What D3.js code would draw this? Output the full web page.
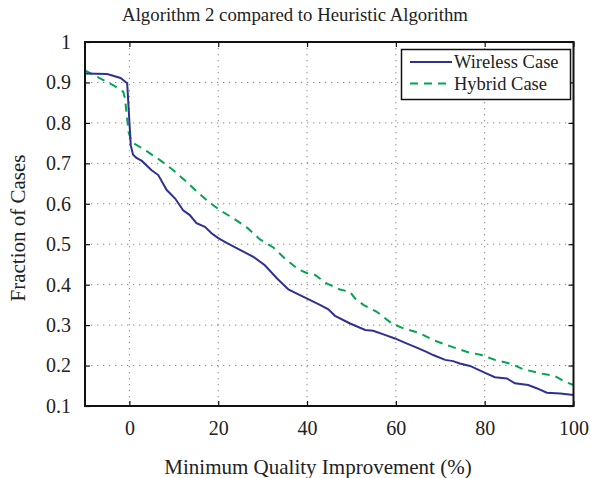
<!DOCTYPE html>
<html><head><meta charset="utf-8">
<script src="https://cdn.jsdelivr.net/npm/d3@7"></script>
<style>body{margin:0;background:#fff}svg{display:block}text{font-family:"Liberation Serif","Times New Roman",serif;fill:#222}</style>
</head><body><svg id="c" width="591" height="478"></svg>
<script>
const title = "Algorithm 2 compared to Heuristic Algorithm";
const xLabel = "Minimum Quality Improvement (%)";
const yLabel = "Fraction of Cases";
const xTicks = [0, 20, 40, 60, 80, 100];
const yTicks = [0.1, 0.2, 0.3, 0.4, 0.5, 0.6, 0.7, 0.8, 0.9, 1];
const seriesNames = ["Wireless Case", "Hybrid Case"];
const wirelessX = [-10,-5,-2,-0.5,0.3,0.8,1.5,2.8,5,6.5,8.4,10.3,12.1,13.6,15.1,17,18.5,20,22,24.9,27.9,30.5,33.2,35.8,38.4,39.9,42.9,44.8,46.3,49.7,53.1,54.9,57.2,59.8,62.1,64.3,66.9,68.4,71.1,72.9,74.4,76.7,80.1,82.3,85,86.8,89.8,91.7,94,97,100];
const wirelessY = [0.922,0.921,0.911,0.898,0.745,0.722,0.714,0.706,0.683,0.671,0.634,0.613,0.584,0.572,0.552,0.543,0.527,0.515,0.503,0.486,0.469,0.448,0.416,0.388,0.374,0.366,0.350,0.339,0.323,0.304,0.288,0.286,0.277,0.267,0.256,0.246,0.234,0.226,0.214,0.211,0.205,0.199,0.182,0.171,0.168,0.156,0.152,0.144,0.133,0.131,0.127];
const hybridX = [-10,-6.6,-3.6,-1.4,-1,-0.2,0.5,3.9,6.9,9.9,12.9,15.2,17.8,20.4,23.4,26.5,29.4,32.4,35,38,39.9,41.8,44.4,47.4,49.7,50.8,52.7,55.7,59.1,61.7,65.4,68.4,72.2,75.9,79.3,82.3,85.7,88.7,92.4,95.8,98.1,100];
const hybridY = [0.930,0.910,0.893,0.877,0.861,0.778,0.753,0.730,0.708,0.683,0.654,0.630,0.605,0.584,0.564,0.541,0.512,0.492,0.465,0.438,0.429,0.424,0.403,0.388,0.382,0.366,0.350,0.333,0.304,0.292,0.280,0.263,0.248,0.234,0.226,0.214,0.205,0.191,0.181,0.174,0.160,0.152];

const svg = d3.select("#c");
const L = 85, R = 573.5, T = 42, B = 406;
const x = d3.scaleLinear().domain([-10, 100]).range([L, R]);
const y = d3.scaleLinear().domain([0.1, 1]).range([B, T]);

// grid
const g = svg.append("g");
g.selectAll(".gx").data(xTicks.filter(d => d < 100)).enter().append("line")
  .attr("x1", d => x(d)).attr("x2", d => x(d)).attr("y1", T).attr("y2", B)
  .attr("stroke", "#888").attr("stroke-width", 1).attr("stroke-dasharray", "1.3,4.7");
g.selectAll(".gy").data(yTicks.filter(d => d > 0.1 && d < 1)).enter().append("line")
  .attr("y1", d => y(d)).attr("y2", d => y(d)).attr("x1", L).attr("x2", R)
  .attr("stroke", "#888").attr("stroke-width", 1).attr("stroke-dasharray", "1.3,4.7");

// axes
const fmtY = d => d === 1 ? "1" : d3.format(".1f")(d);
const ax = svg.append("g").attr("transform", `translate(0,${B})`)
  .call(d3.axisBottom(x).tickValues(xTicks).tickSize(-5).tickPadding(15).tickFormat(d3.format("d")));
const ay = svg.append("g").attr("transform", `translate(${L},0)`)
  .call(d3.axisLeft(y).tickValues(yTicks).tickSize(-5).tickPadding(14).tickFormat(fmtY));
const axT = svg.append("g").attr("transform", `translate(0,${T})`)
  .call(d3.axisTop(x).tickValues(xTicks).tickSize(-5).tickFormat(""));
const ayR = svg.append("g").attr("transform", `translate(${R},0)`)
  .call(d3.axisRight(y).tickValues(yTicks).tickSize(-5).tickFormat(""));
[ax, ay, axT, ayR].forEach(a => {
  a.select(".domain").remove();
  a.selectAll("line").attr("stroke", "#111").attr("stroke-width", 1.2);
  a.selectAll("text").style("font-family", '"Liberation Serif",serif').style("font-size", "20px").attr("fill", "#222");
});

// lines
const lineW = d3.line().x((d, i) => x(wirelessX[i])).y(d => y(d));
const lineH = d3.line().x((d, i) => x(hybridX[i])).y(d => y(d));
svg.append("path").attr("d", lineH(hybridY)).attr("fill", "none").attr("stroke", "#00a650").attr("stroke-width", 2).attr("stroke-dasharray", "8,6");
svg.append("path").attr("d", lineW(wirelessY)).attr("fill", "none").attr("stroke", "#2e3192").attr("stroke-width", 2);

// frame
svg.append("rect").attr("x", L).attr("y", T).attr("width", R - L).attr("height", B - T)
  .attr("fill", "none").attr("stroke", "#111").attr("stroke-width", 2);

// legend
const lg = svg.append("g");
lg.append("rect").attr("x", 401.5).attr("y", 49.5).attr("width", 169).attr("height", 50)
  .attr("fill", "#fff").attr("stroke", "#111").attr("stroke-width", 1.5);
const lc = ["#2e3192", "#00a650"], ld = [null, "8,6"];
seriesNames.forEach((n, i) => {
  const yy = 62 + i * 21.5;
  lg.append("line").attr("x1", 410).attr("x2", 452).attr("y1", yy).attr("y2", yy)
    .attr("stroke", lc[i]).attr("stroke-width", 2).attr("stroke-dasharray", ld[i]);
  lg.append("text").attr("x", 454).attr("y", yy + 6).style("font-size", "18.5px").text(n);
});

// titles
svg.append("text").attr("x", 295).attr("y", 21).attr("text-anchor", "middle").style("font-size", "18.8px").text(title);
svg.append("text").attr("x", 318).attr("y", 474).attr("text-anchor", "middle").style("font-size", "21px").text(xLabel);
svg.append("text").attr("transform", `translate(25,228) rotate(-90)`).attr("text-anchor", "middle").style("font-size", "21px").text(yLabel);
</script></body></html>
